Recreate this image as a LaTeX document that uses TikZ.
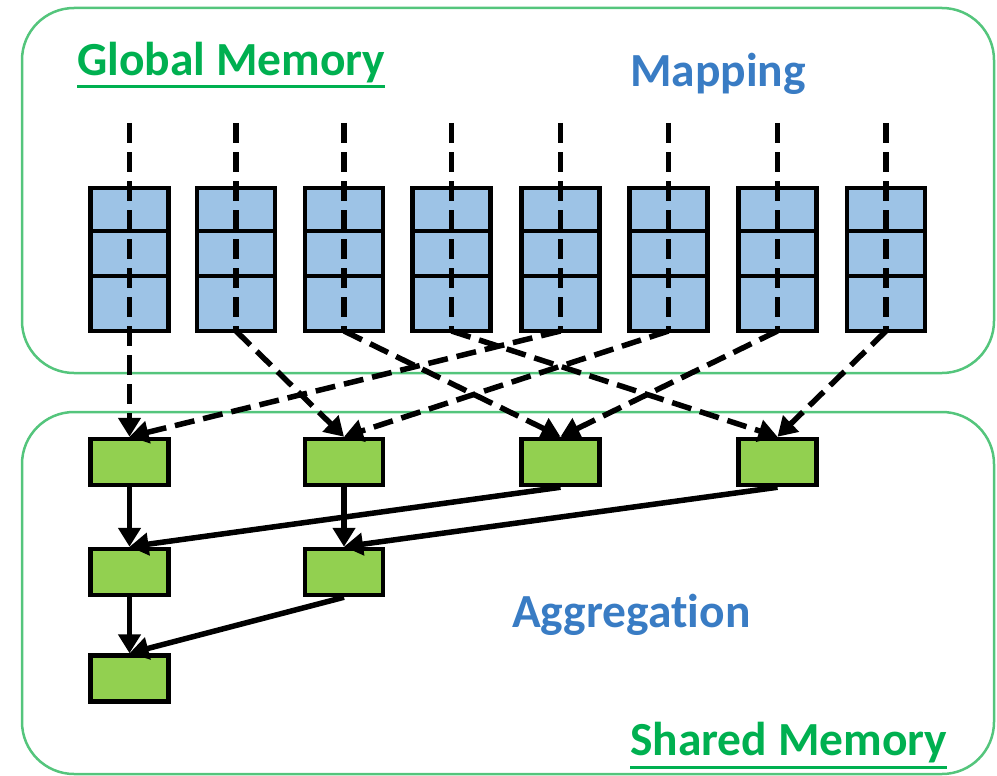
\documentclass[tikz,border=0pt]{standalone}
\usepackage{fontspec}
\setmainfont[Ligatures=NoCommon]{Carlito}
\usetikzlibrary{arrows.meta}
\definecolor{framegreen}{RGB}{84,197,124}
\definecolor{textgreen}{RGB}{0,176,80}
\definecolor{textblue}{RGB}{57,124,196}
\definecolor{cellblue}{RGB}{157,195,230}
\definecolor{boxgreen}{RGB}{146,208,80}
\tikzset{
  frame/.style={draw=framegreen,line width=2.5pt,rounded corners=52pt},
  cell/.style={draw=black,fill=cellblue,line width=4.5pt,minimum width=78pt,inner sep=0pt,outer sep=0pt},
  gbox/.style={draw=black,fill=boxgreen,line width=4.5pt,minimum width=78pt,minimum height=46pt,inner sep=0pt},
  dline/.style={line width=5.5pt,dash pattern=on 20pt off 9pt},
  sline/.style={line width=5.5pt},
  tip/.style={-{Triangle[length=19pt,width=22pt]}},
  lbl/.style={font=\fontsize{47.5}{56}\selectfont\bfseries,inner sep=0pt,anchor=base west},
  uline/.style={draw=textgreen,line width=3pt}
}
\begin{document}
\begin{tikzpicture}[x=1pt,y=-1pt]
\useasboundingbox (0,0) rectangle (997,776);
% memory frames
\draw[frame] (22,8) rectangle (994,373);
\draw[frame] (22,412) rectangle (994,774);
% columns
\foreach \i/\cx in {1/129.5,2/236,3/344,4/451.5,5/560.5,6/668.5,7/777.5,8/886}{
  \node[cell,minimum height=47pt] (c\i a) at (\cx,211.5) {};
  \node[cell,minimum height=49pt] (c\i b) at (\cx,255.5) {};
  \node[cell,minimum height=55pt] (c\i c) at (\cx,303.5) {};
  \coordinate (t\i) at (\cx,123);
}
% green boxes
\node[gbox] (g1) at (129.5,462) {};
\node[gbox] (g3) at (344,462) {};
\node[gbox] (g5) at (560.5,462) {};
\node[gbox] (g7) at (777.5,462) {};
\node[gbox] (h1) at (129.5,572) {};
\node[gbox] (h3) at (344,572) {};
\node[gbox] (k1) at (129.5,678.5) {};
% vertical dashed lines
\draw[dline,tip] (t1) -- (g1.north);
\foreach \i in {2,...,8}{\draw[dline] (t\i) -- (c\i c.south);}
% diagonal dashed arrows
\draw[dline,tip] (c2c.south) -- (g3.north);
\draw[dline,tip] (c3c.south) -- (g5.north);
\draw[dline,tip] (c4c.south) -- (g7.north);
\draw[dline,tip] (c5c.south) -- (g1.north);
\draw[dline,tip] (c6c.south) -- (g3.north);
\draw[dline,tip] (c7c.south) -- (g5.north);
\draw[dline,tip] (c8c.south) -- (g7.north);
% solid arrows
\draw[sline,tip] (g1.south) -- (h1.north);
\draw[sline,tip] (g3.south) -- (h3.north);
\draw[sline,tip] (g5.south) -- (h1.north);
\draw[sline,tip] (g7.south) -- (h3.north);
\draw[sline,tip] (h1.south) -- (k1.north);
\draw[sline,tip] (h3.south) -- (k1.north);
% labels
\node[lbl,text=textgreen] (gm) at (77,76) {Global Memory};
\draw[uline] ([yshift=-11pt]gm.base west) -- ([yshift=-11pt]gm.base east);
\node[lbl,text=textblue] (mp) at (630,87) {Mapping};
\node[lbl,text=textblue] (ag) at (512,627) {Aggregation};
\node[lbl,text=textgreen] (sm) at (630,755) {Shared Memory};
\draw[uline] ([yshift=-12pt]sm.base west) -- ([yshift=-12pt]sm.base east);
\end{tikzpicture}
\end{document}
